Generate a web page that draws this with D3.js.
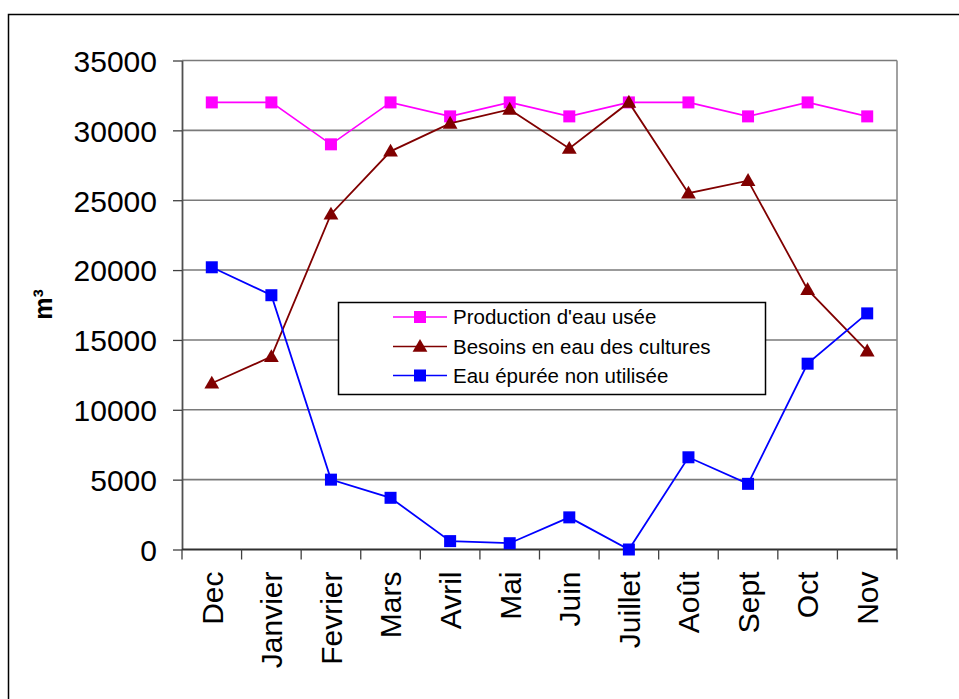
<!DOCTYPE html>
<html>
<head>
<meta charset="utf-8">
<script src="https://cdn.jsdelivr.net/npm/d3@7"></script>
<style>
  html, body { margin: 0; padding: 0; background: #fff; }
  svg { display: block; font-family: "Liberation Sans", Arial, sans-serif; }
</style>
</head>
<body>
<svg id="chart" width="959" height="699"></svg>
<script>
// Monthly volumes (m³)
const months = ["Dec", "Janvier", "Fevrier", "Mars", "Avril", "Mai", "Juin",
                "Juillet", "Août", "Sept", "Oct", "Nov"];
const production = [32000, 32000, 29000, 32000, 31000, 32000, 31000, 32000, 32000, 31000, 32000, 31000];
const besoins    = [11900, 13800, 24000, 28500, 30500, 31500, 28700, 32000, 25500, 26400, 18600, 14200];
const nonUtilisee = [20200, 18200, 5000, 3700, 600, 450, 2300, 0, 6600, 4700, 13300, 16900];
const yTicks = [0, 5000, 10000, 15000, 20000, 25000, 30000, 35000];
const seriesNames = ["Production d'eau usée", "Besoins en eau des cultures", "Eau épurée non utilisée"];

const series = [
  { name: seriesNames[0], values: production,  color: "#ff00ff", marker: "square",   width: 1.6 },
  { name: seriesNames[1], values: besoins,     color: "#800000", marker: "triangle", width: 1.8 },
  { name: seriesNames[2], values: nonUtilisee, color: "#0000ff", marker: "square",   width: 1.8 }
];

const svg = d3.select("#chart");
const plot = { left: 182, right: 897, top: 60.5, bottom: 549.5 };

// outer frame
svg.append("rect")
  .attr("x", 8.5).attr("y", 14.5).attr("width", 1100).attr("height", 1100)
  .attr("fill", "none").attr("stroke", "#000").attr("stroke-width", 1.5);

const x = d3.scaleBand().domain(months).range([plot.left, plot.right]).padding(0);
const y = d3.scaleLinear().domain([0, 35000]).range([plot.bottom, plot.top]);
const cx = d => x(d) + x.bandwidth() / 2;

// gridlines
svg.append("g").selectAll("line")
  .data(yTicks.filter(v => v > 0))
  .join("line")
  .attr("x1", plot.left).attr("x2", plot.right)
  .attr("y1", d => y(d)).attr("y2", d => y(d))
  .attr("stroke", "#7a7a7a").attr("stroke-width", 1.6);

// right border of plot area
svg.append("line")
  .attr("x1", plot.right).attr("x2", plot.right)
  .attr("y1", plot.top).attr("y2", plot.bottom)
  .attr("stroke", "#8a8a8a").attr("stroke-width", 1.6);

// y axis
const yAxis = svg.append("g")
  .attr("transform", `translate(${plot.left},0)`)
  .call(d3.axisLeft(y).tickValues(yTicks).tickFormat(d3.format("d")).tickSizeInner(9).tickSizeOuter(0).tickPadding(16));
yAxis.select(".domain").attr("stroke", "#505050").attr("stroke-width", 1.8);
yAxis.selectAll(".tick line").attr("stroke", "#404040").attr("stroke-width", 1.3);
yAxis.selectAll(".tick text")
  .attr("font-size", 30).attr("fill", "#000")
  .attr("font-family", "Liberation Sans, Arial, sans-serif")
  .attr("dy", "0.36em");

// x axis: line, boundary ticks, rotated labels
const xg = svg.append("g");
xg.append("line")
  .attr("x1", plot.left).attr("x2", plot.right)
  .attr("y1", plot.bottom).attr("y2", plot.bottom)
  .attr("stroke", "#303030").attr("stroke-width", 1.8);
const boundaries = d3.range(months.length + 1).map(i => plot.left + i * x.step());
xg.selectAll("line.tick")
  .data(boundaries)
  .join("line")
  .attr("class", "tick")
  .attr("x1", d => d).attr("x2", d => d)
  .attr("y1", plot.bottom).attr("y2", plot.bottom + 10)
  .attr("stroke", "#404040").attr("stroke-width", 1.3);
xg.selectAll("text")
  .data(months)
  .join("text")
  .attr("transform", d => `translate(${cx(d)},${plot.bottom + 22}) rotate(-90)`)
  .attr("text-anchor", "end")
  .attr("dy", "0.36em")
  .attr("font-size", 30)
  .attr("fill", "#000")
  .text(d => d);

// y axis title
svg.append("text")
  .attr("transform", "translate(52,304.5) rotate(-90)")
  .attr("text-anchor", "middle")
  .style("font-size", "25px")
  .style("font-weight", "bold")
  .text("m³");

// series lines and markers
const line = d3.line().x((d, i) => cx(months[i])).y(d => y(d));
const triangle = d3.symbol().type(d3.symbolTriangle).size(95);

function drawMarker(g, s, px, py) {
  if (s.marker === "square") {
    g.append("rect")
      .attr("x", px - 6).attr("y", py - 6).attr("width", 12).attr("height", 12)
      .attr("fill", s.color);
  } else {
    g.append("path")
      .attr("d", triangle())
      .attr("transform", `translate(${px},${py + 1})`)
      .attr("fill", s.color);
  }
}

series.forEach(s => {
  const g = svg.append("g");
  g.append("path")
    .datum(s.values)
    .attr("d", line)
    .attr("fill", "none")
    .attr("stroke", s.color)
    .attr("stroke-width", s.width);
  s.values.forEach((v, i) => drawMarker(g, s, cx(months[i]), y(v)));
});

// legend
const legend = svg.append("g");
legend.append("rect")
  .attr("x", 338.5).attr("y", 302.5).attr("width", 427).attr("height", 92)
  .attr("fill", "#fff").attr("stroke", "#000").attr("stroke-width", 1.5);
const rowsY = [317, 346.5, 375.5];
series.forEach((s, i) => {
  const ry = rowsY[i];
  legend.append("line")
    .attr("x1", 393).attr("x2", 447).attr("y1", ry).attr("y2", ry)
    .attr("stroke", s.color).attr("stroke-width", 1.6);
  drawMarker(legend, s, 420, ry);
  legend.append("text")
    .attr("x", 453).attr("y", ry).attr("dy", "0.36em")
    .attr("font-size", 20.5).attr("fill", "#000")
    .text(s.name);
});
</script>
</body>
</html>
